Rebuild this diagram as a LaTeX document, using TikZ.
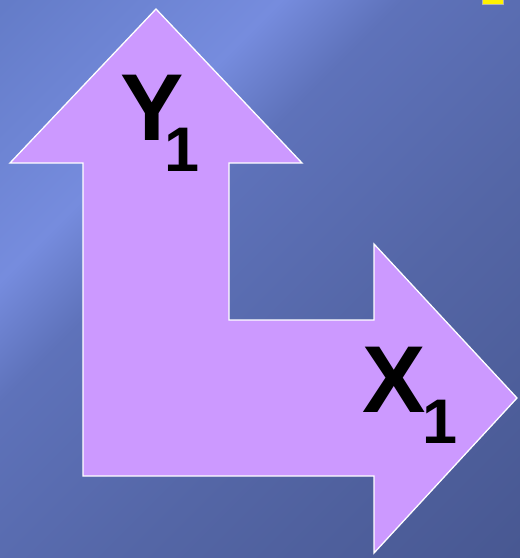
\documentclass[tikz,border=0pt]{standalone}
\usepackage{fontspec}
\setmainfont{Liberation Sans}
\definecolor{bgTL}{RGB}{100,124,200}
\definecolor{bgL}{RGB}{118,140,222}
\definecolor{bgA}{RGB}{94,114,186}
\definecolor{bgM}{RGB}{84,102,166}
\definecolor{bgD}{RGB}{72,88,146}
\definecolor{arrowfill}{RGB}{204,153,255}
\pgfdeclareverticalshading{bgsh}{100bp}{color(0bp)=(bgD); color(15bp)=(bgD); color(40bp)=(bgM); color(59bp)=(bgA); color(67bp)=(bgL); color(85bp)=(bgTL); color(100bp)=(bgTL)}
\newcommand{\subone}{\raisebox{-31pt}{\fontsize{63pt}{63pt}\selectfont 1}}
\tikzset{
  bigletter/.style={anchor=base west, inner sep=0pt, font=\fontsize{95pt}{95pt}\selectfont\bfseries},
  lshape/.style={fill=arrowfill, draw=white, line width=1.3pt, line join=miter}
}
\begin{document}
\begin{tikzpicture}[x=1pt,y=-1pt]
\useasboundingbox (0,0) rectangle (520,558);
\shade[shading=bgsh, shading angle=45] (0,0) rectangle (520,558);
\fill[yellow, draw=gray!60, line width=0.8pt] (482,-2) rectangle (503,4);
\draw[lshape] (156,9) -- (302,163) -- (229,163) -- (229,320) -- (374,320) -- (374,244)
  -- (517,398) -- (374,553) -- (374,476) -- (83,476) -- (83,163) -- (10,163) -- cycle;
\node[bigletter] (ylab) at (120,140) {Y\kern-19pt\subone};
\node[bigletter] (xlab) at (362,412) {X\kern-3pt\subone};
\end{tikzpicture}
\end{document}
